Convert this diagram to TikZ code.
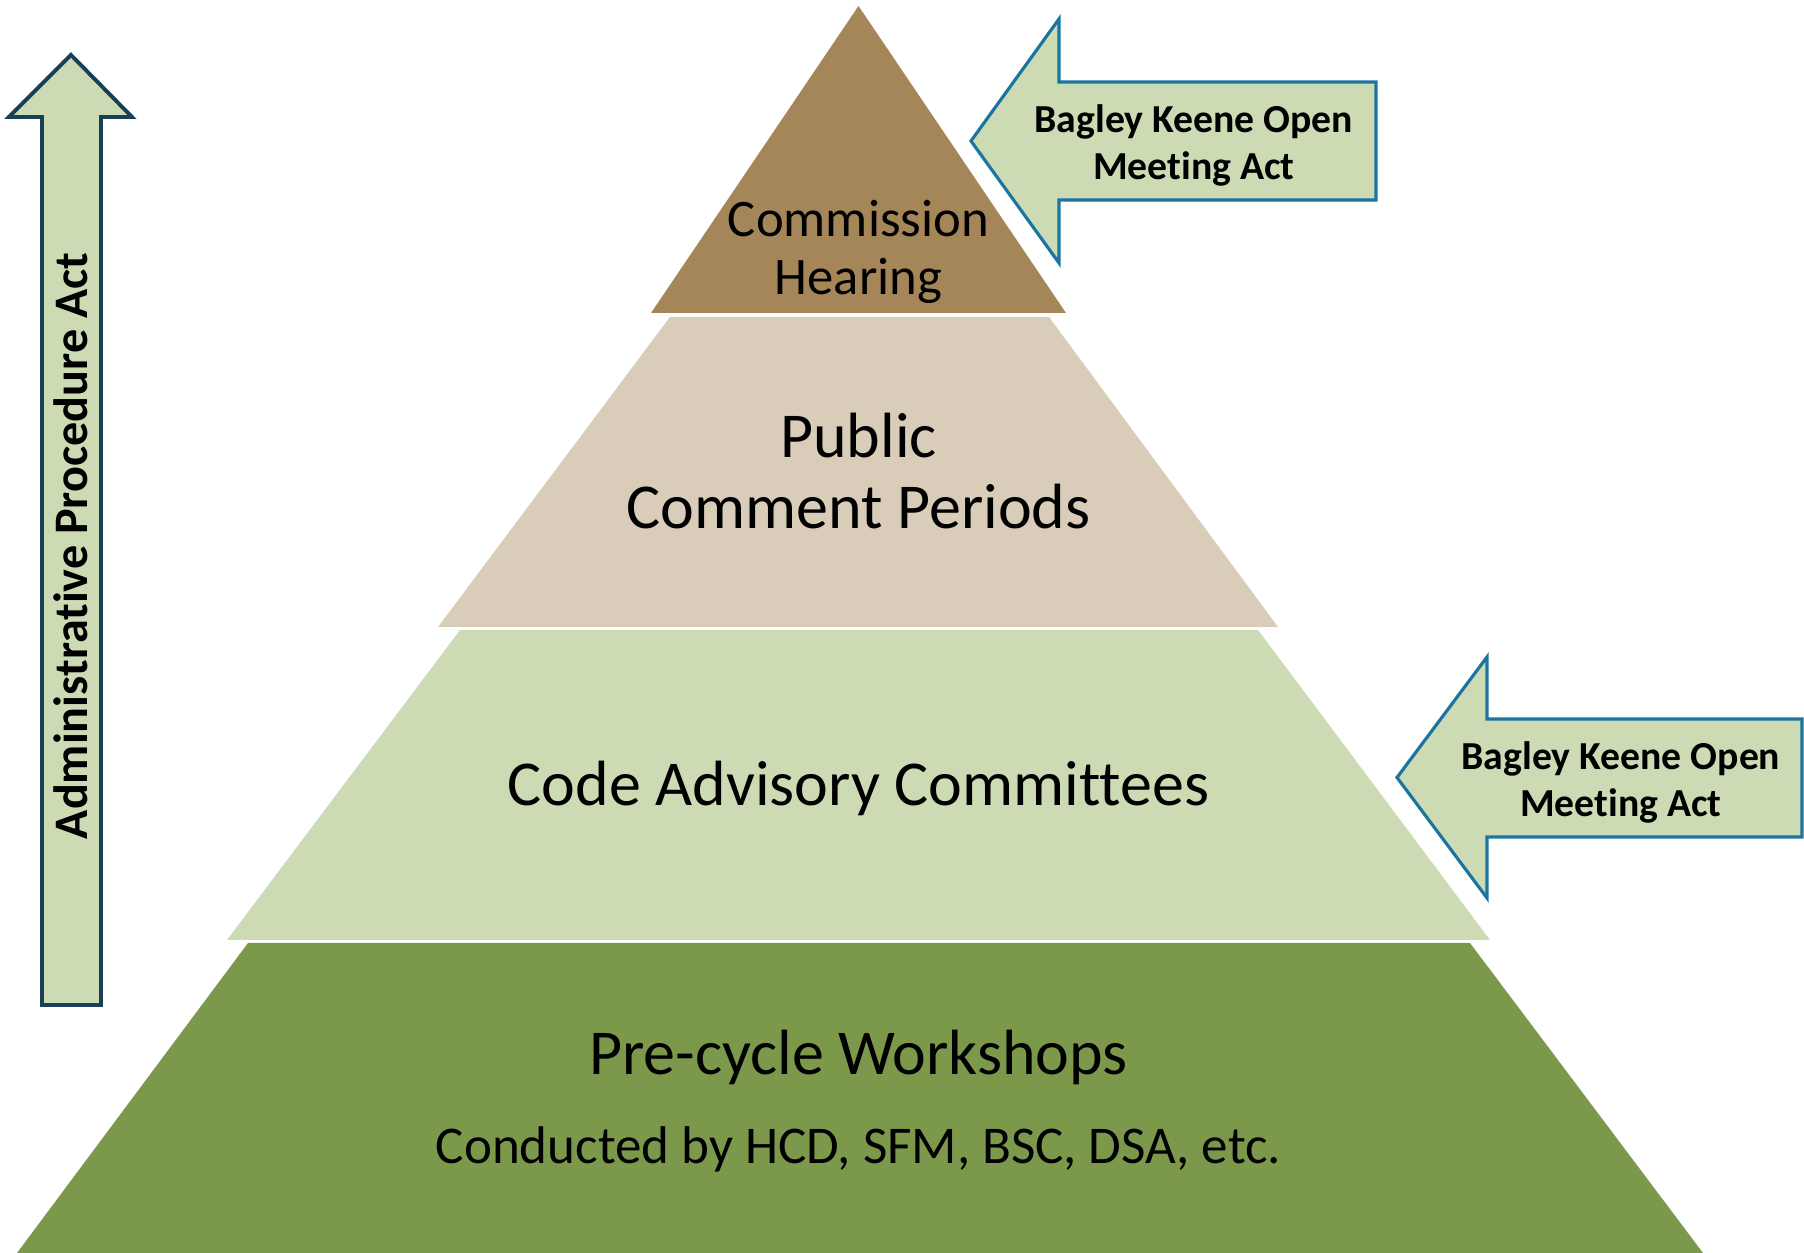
\documentclass[tikz,border=0pt]{standalone}
\usepackage{fontspec}
\setmainfont{Carlito}[Ligatures=NoCommon]
\definecolor{hearingbrown}{HTML}{A58659}
\definecolor{commentbeige}{HTML}{D9CCB8}
\definecolor{palegreen}{HTML}{CDDBB4}
\definecolor{workshopgreen}{HTML}{7C994B}
\definecolor{actblue}{HTML}{1A75A0}
\definecolor{actnavy}{HTML}{173F5A}
\tikzset{
  actarrow/.style={fill=palegreen,draw=actblue,line width=0.9pt,line join=miter},
  tiertext/.style={align=center,font=\fontsize{18.2}{20.2}\selectfont},
  acttext/.style={align=center,font=\bfseries\fontsize{11.3}{13.4}\selectfont}
}

\begin{document}
\begin{tikzpicture}
            \useasboundingbox (0,0) rectangle (18.04,12.53);
            % pyramid tiers
            \fill[hearingbrown] (8.585,12.47) -- (10.66,9.40) -- (6.51,9.40) -- cycle;
            \fill[commentbeige] (6.70,9.36) -- (10.49,9.36) -- (12.78,6.26) -- (4.38,6.26) -- cycle;
            \fill[palegreen] (4.60,6.23) -- (12.58,6.23) -- (14.90,3.13) -- (2.27,3.13) -- cycle;
            \fill[workshopgreen] (2.48,3.10) -- (14.70,3.10) -- (17.03,0) -- (0.17,0) -- cycle;

            \node (hearing) at (8.585,10.015) [tiertext,font=\fontsize{15.0}{16.5}\selectfont] {Commission\\Hearing};
            \node (comment) at (8.585,7.82) [tiertext] {Public\\Comment Periods};
            \node (advisory) at (8.585,4.645) [tiertext] {Code Advisory Committees};
            \node (workshops) at (8.585,1.955) [tiertext] {Pre-cycle Workshops};
            \node (conducted) at (8.585,1.04) [tiertext,font=\fontsize{15.1}{18}\selectfont] {Conducted by HCD, SFM, BSC, DSA, etc.};

            % administrative procedure arrow
            \draw[fill=palegreen,draw=actnavy,line width=1.1pt,line join=miter] (0.71,11.98) -- (1.32,11.36) -- (1.01,11.36) -- (1.01,2.48) -- (0.42,2.48) -- (0.42,11.36) -- (0.09,11.36) -- cycle;
            \node (apa) at (0.71,7.07) [rotate=90,font=\bfseries\fontsize{13.7}{16}\selectfont] {Administrative Procedure Act};

            % open meeting arrows
            \draw[actarrow] (9.71,11.12) -- (10.59,12.34) -- (10.59,11.71) -- (13.76,11.71) -- (13.76,10.53) -- (10.59,10.53) -- (10.59,9.90) -- cycle;
            \node (bkTop) at (11.94,11.075) [acttext] {Bagley Keene Open\\Meeting Act};
            \draw[actarrow] (13.97,4.755) -- (14.87,5.96) -- (14.87,5.34) -- (18.02,5.34) -- (18.02,4.16) -- (14.87,4.16) -- (14.87,3.55) -- cycle;
            \node (bkBottom) at (16.21,4.71) [acttext] {Bagley Keene Open\\Meeting Act};
\end{tikzpicture}
\end{document}
